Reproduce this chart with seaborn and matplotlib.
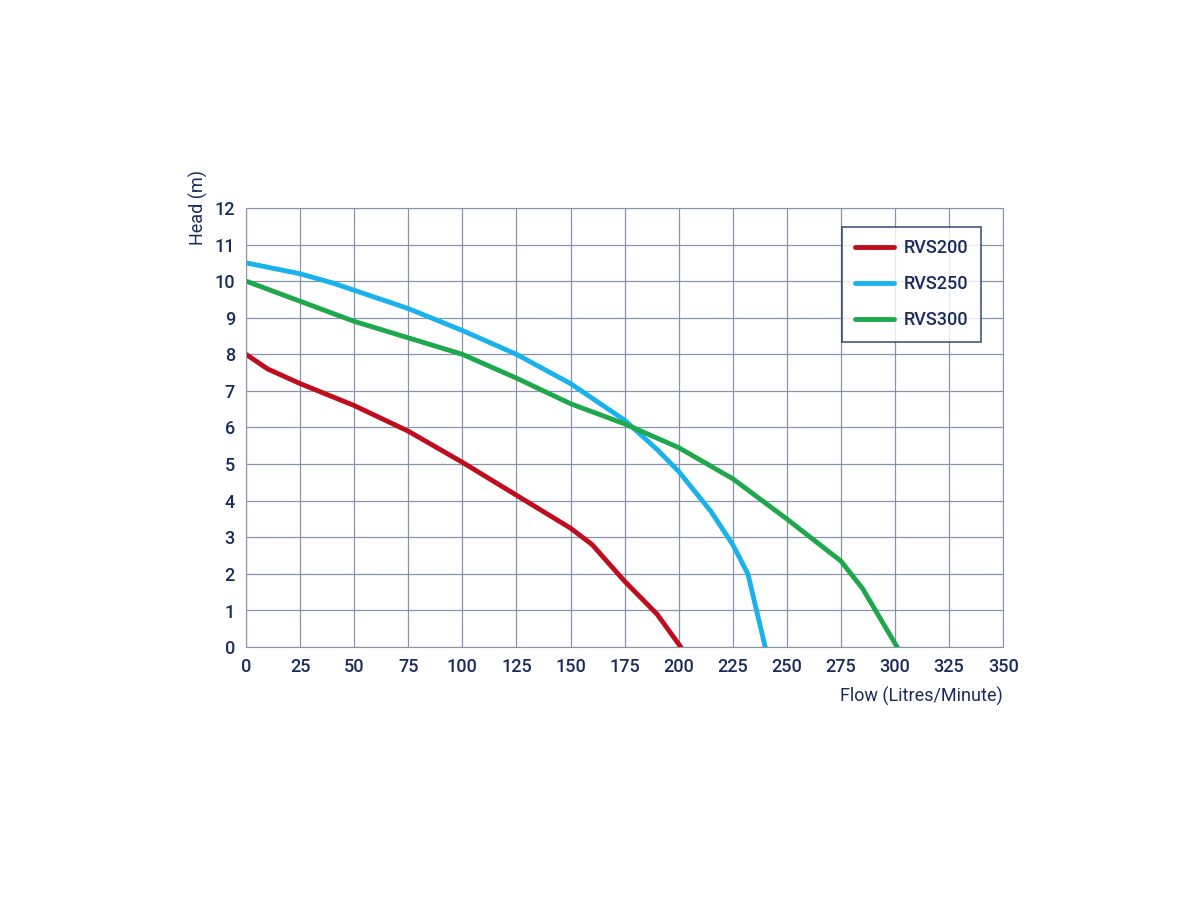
import numpy as np
import pandas as pd
import matplotlib
matplotlib.use("Agg")
import matplotlib.pyplot as plt
import seaborn as sns

# pump curves
rvs200_flow = [0, 10, 25, 50, 75, 100, 125, 150, 160, 175, 190, 201]
rvs200_head = [8.0, 7.6, 7.2, 6.6, 5.9, 5.05, 4.15, 3.25, 2.8, 1.8, 0.9, 0.0]

rvs250_flow = [0, 25, 40, 50, 75, 100, 125, 150, 175, 190, 200, 215, 225, 232, 236, 240]
rvs250_head = [10.5, 10.2, 9.95, 9.75, 9.25, 8.65, 8.0, 7.2, 6.2, 5.4, 4.8, 3.7, 2.8, 2.0, 1.0, 0.0]

rvs300_flow = [0, 25, 50, 75, 100, 125, 150, 175, 200, 225, 250, 275, 285, 293, 301]
rvs300_head = [10.0, 9.45, 8.9, 8.45, 8.0, 7.35, 6.65, 6.1, 5.45, 4.6, 3.5, 2.35, 1.6, 0.8, 0.0]

x_ticks = list(range(0, 351, 25))
y_ticks = list(range(0, 13))

navy = "#1a2b5c"
sns.set_style("white")
plt.rcParams['font.family'] = ['Roboto', 'DejaVu Sans']
plt.rcParams['font.weight'] = 'medium'

df = pd.concat([
    pd.DataFrame({"flow": rvs200_flow, "head": rvs200_head, "model": "RVS200"}),
    pd.DataFrame({"flow": rvs250_flow, "head": rvs250_head, "model": "RVS250"}),
    pd.DataFrame({"flow": rvs300_flow, "head": rvs300_head, "model": "RVS300"}),
])

fig = plt.figure(figsize=(12, 9), dpi=100)
ax = fig.add_axes([0.205, 0.281, 0.631, 0.488])
sns.lineplot(data=df, x="flow", y="head", hue="model", sort=False, estimator=None,
             palette={"RVS200": "#c00d1e", "RVS250": "#1ab2ea", "RVS300": "#1fa84b"},
             linewidth=3.5, solid_joinstyle="round", solid_capstyle="round", ax=ax)

ax.set_xlim(0, 350)
ax.set_ylim(0, 12)
ax.set_xticks(x_ticks)
ax.set_yticks(y_ticks)
ax.grid(True, color="#8a93ad", linewidth=0.9)
for s in ax.spines.values():
    s.set_color("#8a93ad")
ax.tick_params(colors=navy, labelsize=13, length=0, pad=8)
ax.set_xlabel("Flow (Litres/Minute)", color=navy, fontsize=13)
ax.xaxis.set_label_coords(1.0, -0.09)
ax.xaxis.label.set_ha("right")
ax.set_ylabel("Head (m)", color=navy, fontsize=13)
ax.yaxis.set_label_coords(-0.075, 1.0)
ax.yaxis.label.set_va("top")

leg = ax.legend(loc="upper right", bbox_to_anchor=(0.982, 0.978), title=None,
                fontsize=13, frameon=True, fancybox=False, borderpad=0.7,
                labelspacing=1.0, handlelength=2.2, handletextpad=0.5)
leg.get_frame().set_edgecolor(navy)
leg.get_frame().set_linewidth(1.2)
for t in leg.get_texts():
    t.set_color(navy)

fig.savefig("out.png")
